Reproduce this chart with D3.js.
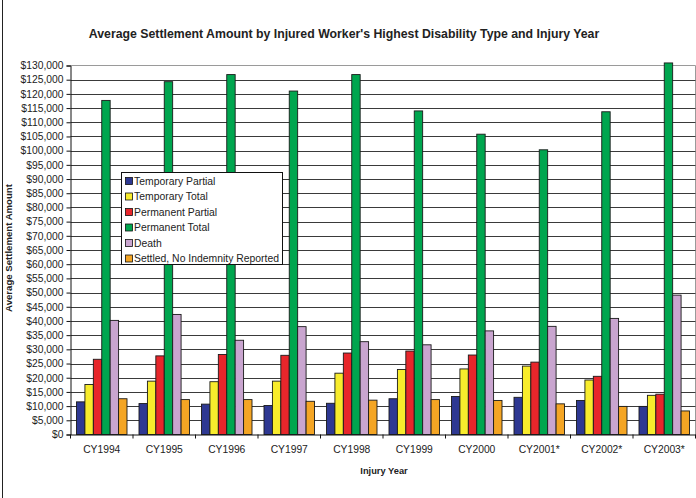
<!DOCTYPE html>
<html>
<head>
<meta charset="utf-8">
<script src="https://cdn.jsdelivr.net/npm/d3@7"></script>
<style>
  html, body { margin: 0; padding: 0; background: #fff; }
  svg { display: block; font-family: Arial, "Liberation Sans", sans-serif; }
</style>
</head>
<body>
<svg id="chart" width="696" height="498"></svg>
<script>
// Injury years on the x axis
const years = ["CY1994", "CY1995", "CY1996", "CY1997", "CY1998", "CY1999", "CY2000", "CY2001*", "CY2002*", "CY2003*"];

// Disability types (legend order)
const seriesNames = ["Temporary Partial", "Temporary Total", "Permanent Partial", "Permanent Total", "Death", "Settled, No Indemnity Reported"];
const seriesColors = ["#2e3892", "#f8ec2c", "#e8262b", "#00a64f", "#c9a5cf", "#f4a524"];

// Average settlement amounts per year, one array per disability type
const temporaryPartial = [11500, 10900, 10700, 10200, 11000, 12600, 13400, 13100, 12000, 9900];
const temporaryTotal   = [17600, 18800, 18600, 18800, 21600, 22900, 23100, 24100, 19200, 13800];
const permanentPartial = [26500, 27700, 28200, 27900, 28700, 29400, 28000, 25500, 20500, 14200];
const permanentTotal   = [117700, 124300, 126800, 121000, 126800, 114000, 105800, 100300, 113700, 130900];
const death            = [40200, 42300, 33200, 38000, 32700, 31600, 36500, 38100, 40900, 49100];
const settledNoIndemnity = [12600, 12300, 12300, 11700, 12100, 12300, 12000, 10800, 9900, 8300];

const allSeries = [temporaryPartial, temporaryTotal, permanentPartial, permanentTotal, death, settledNoIndemnity];

// Y axis ticks: $0 to $130,000 by $5,000
const yTicks = d3.range(0, 130001, 5000);

const FONT = 'Arial, "Liberation Sans", sans-serif';
const svg = d3.select("#chart");
const plot = { left: 70.5, right: 695.5, top: 65.5, bottom: 434.5 };

// outer chart frame (left edge visible)
svg.append("line")
  .attr("x1", 2.5).attr("x2", 2.5).attr("y1", 0).attr("y2", 498)
  .attr("stroke", "#222").attr("stroke-width", 1);

// title
svg.append("text")
  .attr("x", 344).attr("y", 38)
  .attr("text-anchor", "middle")
  .attr("font-size", 12.3).attr("font-weight", "bold").attr("fill", "#222")
  .text("Average Settlement Amount by Injured Worker's Highest Disability Type and Injury Year");

const x0 = d3.scaleBand().domain(years).range([plot.left, plot.right]).padding(0);
const gap = 6;
const x1 = d3.scaleBand().domain(d3.range(seriesNames.length)).range([gap, x0.bandwidth() - gap]).padding(0);
const y = d3.scaleLinear().domain([0, 130000]).range([plot.bottom, plot.top]);

// plot area border (top and right)
svg.append("path")
  .attr("d", `M${plot.left},${plot.top}H${plot.right}V${plot.bottom}`)
  .attr("fill", "none").attr("stroke", "#9a9a9a").attr("stroke-width", 1);

// horizontal gridlines
svg.append("g")
  .selectAll("line")
  .data(yTicks.filter(d => d > 0 && d < 130000))
  .join("line")
  .attr("x1", plot.left).attr("x2", plot.right)
  .attr("y1", d => Math.round(y(d)) + 0.5).attr("y2", d => Math.round(y(d)) + 0.5)
  .attr("stroke", "#3a3a3a").attr("stroke-width", 1.1);

// bars
const groups = svg.append("g")
  .selectAll("g")
  .data(years)
  .join("g")
  .attr("transform", d => `translate(${x0(d)},0)`);

groups.selectAll("rect")
  .data((yr, i) => allSeries.map((s, k) => ({ k, v: s[i] })))
  .join("rect")
  .attr("x", d => x1(d.k))
  .attr("width", x1.bandwidth())
  .attr("y", d => y(d.v))
  .attr("height", d => y(0) - y(d.v))
  .attr("fill", d => seriesColors[d.k])
  .attr("stroke", "#1a1a1a").attr("stroke-width", 0.9);

// y axis
const yAxis = d3.axisLeft(y)
  .tickValues(yTicks)
  .tickSize(4)
  .tickPadding(3)
  .tickFormat(d => "$" + d3.format(",")(d));
const gy = svg.append("g").attr("transform", `translate(${plot.left},0)`).call(yAxis);
gy.select(".domain").attr("stroke", "#111");
gy.selectAll(".tick line").attr("stroke", "#111");
gy.selectAll(".tick text").attr("font-size", 10.3).attr("fill", "#222").attr("font-family", FONT);

// x axis
const xAxis = d3.axisBottom(x0).tickSize(0).tickPadding(11);
const gx = svg.append("g").attr("transform", `translate(0,${plot.bottom})`).call(xAxis);
gx.select(".domain").attr("stroke", "#111");
gx.selectAll(".tick text").attr("font-size", 10.3).attr("fill", "#222").attr("font-family", FONT);
// category separator ticks
svg.append("g")
  .selectAll("line")
  .data(years.map(d => x0(d)).concat([plot.right]))
  .join("line")
  .attr("x1", d => d).attr("x2", d => d)
  .attr("y1", plot.bottom).attr("y2", plot.bottom + 4)
  .attr("stroke", "#111");

// axis titles
svg.append("text")
  .attr("x", 384).attr("y", 474)
  .attr("text-anchor", "middle")
  .attr("font-size", 9.3).attr("font-weight", "bold").attr("fill", "#222")
  .text("Injury Year");

svg.append("text")
  .attr("transform", "translate(11.5,248) rotate(-90)")
  .attr("text-anchor", "middle")
  .attr("font-size", 9.6).attr("font-weight", "bold").attr("fill", "#222")
  .text("Average Settlement Amount");

// legend
const legend = svg.append("g").attr("transform", "translate(121.5,172.5)");
legend.append("rect")
  .attr("width", 161).attr("height", 92)
  .attr("fill", "#fff").attr("stroke", "#111").attr("stroke-width", 1);
const items = legend.selectAll("g.item")
  .data(seriesNames)
  .join("g")
  .attr("class", "item")
  .attr("transform", (d, i) => `translate(4,${8.5 + i * 15.5})`);
items.append("rect")
  .attr("x", 0).attr("y", -3.5).attr("width", 7).attr("height", 7)
  .attr("fill", (d, i) => seriesColors[i])
  .attr("stroke", "#111").attr("stroke-width", 0.8);
items.append("text")
  .attr("x", 8.5).attr("y", 3.8)
  .attr("font-size", 10.4).attr("fill", "#222")
  .text(d => d);
</script>
</body>
</html>
